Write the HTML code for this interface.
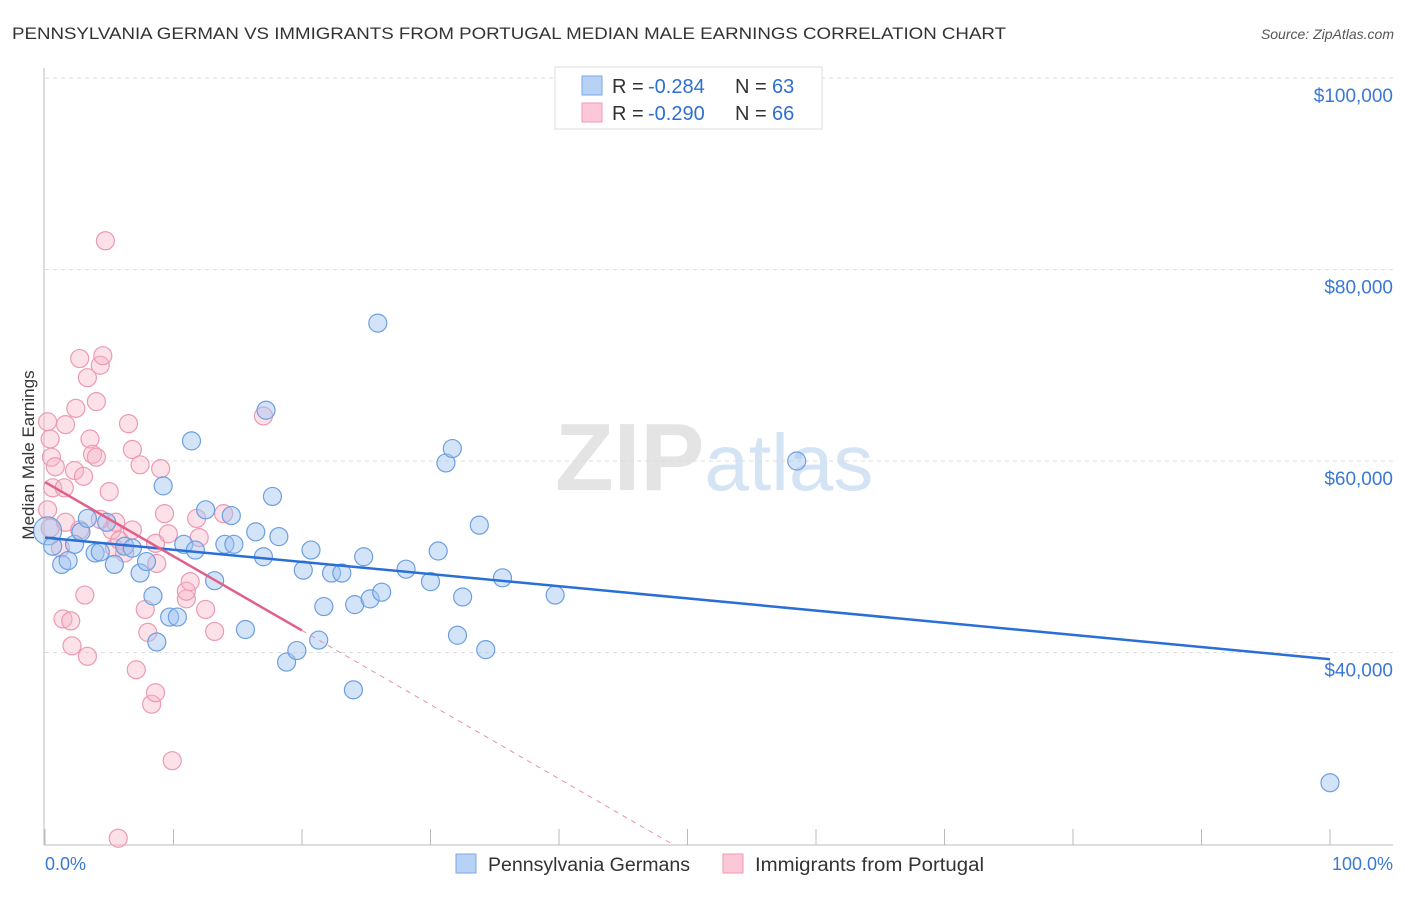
<!DOCTYPE html>
<html><head><meta charset="utf-8"><style>
body{margin:0;background:#fff;font-family:"Liberation Sans",sans-serif;}
svg text{font-family:"Liberation Sans",sans-serif;}
</style></head><body>
<svg id="chart" width="1406" height="892" xmlns="http://www.w3.org/2000/svg">
<text x="12" y="39" font-size="17" fill="#333" textLength="994" lengthAdjust="spacingAndGlyphs">PENNSYLVANIA GERMAN VS IMMIGRANTS FROM PORTUGAL MEDIAN MALE EARNINGS CORRELATION CHART</text>
<text x="1394" y="39" font-size="14" fill="#555" text-anchor="end" font-style="italic">Source: ZipAtlas.com</text>
<text x="555" y="490" font-size="96" fill="#e4e4e4" font-family="Liberation Serif" font-weight="bold">ZIP<tspan fill="#d4e4f5" font-family="Liberation Sans" font-weight="normal" font-size="80">atlas</tspan></text>
<g id="grid"></g><g id="axes"></g><g id="pts"></g><g id="lines"></g>
<text transform="translate(34,455) rotate(-90)" font-size="17" fill="#333" text-anchor="middle">Median Male Earnings</text>
<g>
<rect x="555" y="67" width="267" height="62" fill="#fff" stroke="#ddd"/>
<rect x="582" y="76" width="20" height="19" fill="#b7d2f5" stroke="#7aa8e6"/>
<rect x="582" y="103" width="20" height="19" fill="#fcc8d8" stroke="#ef9ab4"/>
<text x="612" y="93" font-size="20" fill="#333">R =</text>
<text x="648" y="93" font-size="20" fill="#2f6fd0">-0.284</text>
<text x="735" y="93" font-size="20" fill="#333">N =</text>
<text x="772" y="93" font-size="20" fill="#2f6fd0">63</text>
<text x="612" y="120" font-size="20" fill="#333">R =</text>
<text x="648" y="120" font-size="20" fill="#2f6fd0">-0.290</text>
<text x="735" y="120" font-size="20" fill="#333">N =</text>
<text x="772" y="120" font-size="20" fill="#2f6fd0">66</text>
</g>
<g>
<rect x="456" y="854" width="20" height="19" fill="#b7d2f5" stroke="#7aa8e6"/>
<text x="488" y="871" font-size="19" fill="#333" textLength="202" lengthAdjust="spacingAndGlyphs">Pennsylvania Germans</text>
<rect x="723" y="854" width="20" height="19" fill="#fcc8d8" stroke="#ef9ab4"/>
<text x="755" y="871" font-size="19" fill="#333" textLength="229" lengthAdjust="spacingAndGlyphs">Immigrants from Portugal</text>
</g>
</svg>
<script>
const yTicks=[40000,60000,80000,100000];
const yTickLabels=["$40,000","$60,000","$80,000","$100,000"];
const xTickLabels=["0.0%","100.0%"];
const blueX=[0.2,0.6,1.3,1.8,2.3,2.8,3.3,3.9,4.3,4.8,5.4,6.2,6.8,7.4,7.9,8.4,8.7,9.2,9.7,10.3,10.8,11.4,11.7,12.5,13.2,14.0,14.5,14.7,15.6,16.4,17.0,17.2,17.7,18.2,18.8,19.6,20.1,20.7,21.3,21.7,22.3,23.1,24.0,24.1,24.8,25.3,25.9,26.2,28.1,30.0,30.6,31.2,31.7,32.1,32.5,33.8,34.3,35.6,39.7,58.5,100];
const blueY=[52.7,51.1,49.2,49.6,51.3,52.6,54.0,50.4,50.5,53.6,49.2,51.1,50.9,48.3,49.5,45.9,41.1,57.4,43.7,43.7,51.3,62.1,50.7,54.9,47.5,51.3,54.3,51.3,42.4,52.6,50.0,65.3,56.3,52.1,39.0,40.2,48.6,50.7,41.3,44.8,48.3,48.3,36.1,45.0,50.0,45.6,74.4,46.3,48.7,47.4,50.6,59.8,61.3,41.8,45.8,53.3,40.3,47.8,46.0,60.0,26.4];
const pinkX=[0.2,0.4,0.5,0.8,0.6,0.2,0.4,1.2,1.6,1.5,1.6,1.4,2.0,2.1,2.4,2.3,2.7,2.7,3.0,3.1,3.3,3.3,3.5,3.7,4.0,4.0,4.3,4.5,4.7,5.0,5.2,5.4,5.8,6.5,6.8,7.1,7.4,7.8,8.0,8.3,8.6,8.6,8.7,9.0,9.3,9.6,9.9,11.0,11.0,11.3,11.8,12.0,12.5,13.2,13.9,17.0,5.7,6.2,6.8,4.3,5.5];
const pinkY=[64.1,62.3,60.4,59.4,57.2,54.9,53.0,50.9,53.6,57.2,63.8,43.5,43.3,40.7,65.5,59.0,70.7,52.8,58.4,46.0,39.6,68.7,62.3,60.7,66.2,60.4,70.0,71.0,83.0,56.8,52.8,50.9,51.7,63.9,61.2,38.2,59.6,44.5,42.1,34.6,35.8,51.4,49.3,59.2,54.5,52.4,28.7,45.6,46.4,47.4,54.0,52.0,44.5,42.2,54.5,64.7,20.6,50.4,52.8,53.9,53.6];
const blueTrend=[[0,52.0],[100,39.3]];
const pinkTrend=[[0,57.8],[20,42.3]];
const pinkDash=[[20,42.3],[48.8,20.0]];
const X=v=>45+v/100*1285;
const Y=v=>844-(v-20)*9.575;
const NS="http://www.w3.org/2000/svg";
function mk(p,t,a){const e=document.createElementNS(NS,t);for(const k in a)e.setAttribute(k,a[k]);p.appendChild(e);return e;}
const grid=document.getElementById('grid'),axes=document.getElementById('axes'),pts=document.getElementById('pts'),lines=document.getElementById('lines');
yTicks.forEach((t,i)=>{const y=Y(t/1000);
 const g=mk(grid,'line',{x1:45,x2:1393,y1:y,y2:y,stroke:'#ddd','stroke-dasharray':'4,4'});
 
 
 const l=mk(axes,'text',{x:1393,y:y+24,'font-size':19,fill:'#3a78d4','text-anchor':'end'});l.textContent=yTickLabels[i];
 
 
});
mk(axes,'line',{x1:44,x2:44,y1:68,y2:845,stroke:'#bbb'});
mk(axes,'line',{x1:44,x2:1393,y1:845,y2:845,stroke:'#bbb'});
for(let i=0;i<=10;i++){const x=X(i*10);const t=mk(axes,'line',{x1:x,x2:x,y1:829,y2:845,stroke:'#bbb'});
 
 }
const x0=mk(axes,'text',{x:45,y:870,'font-size':18,fill:'#3a78d4'});x0.textContent=xTickLabels[0];


const x1=mk(axes,'text',{x:1393,y:870,'font-size':18,fill:'#3a78d4','text-anchor':'end'});x1.textContent=xTickLabels[1];


pinkX.forEach((v,i)=>{const c=mk(pts,'circle',{cx:X(v),cy:Y(pinkY[i]),r:9,fill:'rgba(248,180,200,0.4)',stroke:'#eb9ab2','stroke-width':1.2});
 
 });
blueX.forEach((v,i)=>{const c=mk(pts,'circle',{cx:X(v),cy:Y(blueY[i]),r:i==0?14:9,fill:'rgba(160,196,240,0.45)',stroke:'#6c9fe0','stroke-width':1.2});
 
 });
const bl=mk(lines,'line',{x1:X(blueTrend[0][0]),y1:Y(blueTrend[0][1]),x2:X(blueTrend[1][0]),y2:Y(blueTrend[1][1]),stroke:'#2a6fd6','stroke-width':2.5});


const pl=mk(lines,'line',{x1:X(pinkTrend[0][0]),y1:Y(pinkTrend[0][1]),x2:X(pinkTrend[1][0]),y2:Y(pinkTrend[1][1]),stroke:'#e0608a','stroke-width':2.5});


const pd=mk(lines,'line',{x1:X(pinkDash[0][0]),y1:Y(pinkDash[0][1]),x2:X(pinkDash[1][0]),y2:Y(pinkDash[1][1]),stroke:'#e890aa','stroke-width':1,'stroke-dasharray':'5,5'});


</script>
</body></html>
